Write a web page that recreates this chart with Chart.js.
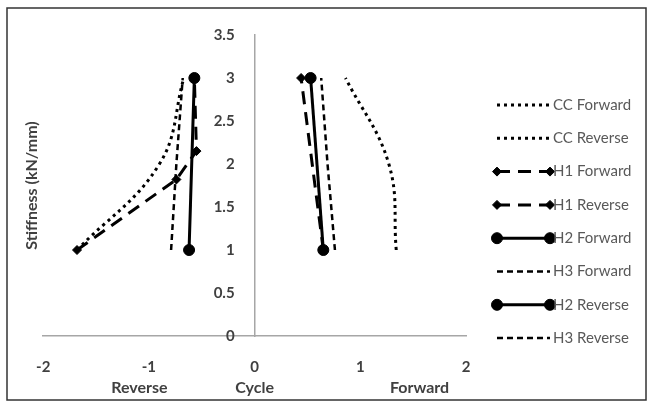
<!DOCTYPE html>
<html><head><meta charset="utf-8">
<script src="https://cdn.jsdelivr.net/npm/chart.js@4/dist/chart.umd.min.js"></script>
<style>html,body{margin:0;padding:0;background:#fff}</style>
</head><body>
<canvas id="c" width="654" height="409"></canvas>
<script>
// ---- data ----
const seriesNames = ['CC Forward','CC Reverse','H1 Forward','H1 Reverse','H2 Forward','H3 Forward','H2 Reverse','H3 Reverse'];
const ccForwardX = [1.34, 1.27, 0.86];
const ccForwardY = [1, 2, 3];
const ccReverseX = [-1.68, -0.90, -0.67];
const ccReverseY = [1, 2, 3];
const h1ForwardX = [0.65, 0.44];
const h1ForwardY = [1, 3];
const h1ReverseX = [-1.68, -0.74, -0.55, -0.57];
const h1ReverseY = [1, 1.82, 2.15, 3];
const h2ForwardX = [0.65, 0.53];
const h2ForwardY = [1, 3];
const h3ForwardX = [0.76, 0.69, 0.63];
const h3ForwardY = [1, 2, 3];
const h2ReverseX = [-0.62, -0.57];
const h2ReverseY = [1, 3];
const h3ReverseX = [-0.79, -0.74, -0.68];
const h3ReverseY = [1, 2, 3];
const xTickValues = [-2, -1, 0, 1, 2];
const xTickLabels = ['-2', '-1', '0', '1', '2'];
const yTickValues = [0, 0.5, 1, 1.5, 2, 2.5, 3, 3.5];
const yTickLabels = ['0', '0.5', '1', '1.5', '2', '2.5', '3', '3.5'];
const xTitleWords = ['Reverse', 'Cycle', 'Forward'];
const xTitleAt = [-1.09, 0, 1.56];
const yTitle = 'Stiffness (kN/mm)';

const pts = (xs, ys) => xs.map((x, i) => ({x: x, y: ys[i]}));
const dotted = {borderDash: [3, 4], borderWidth: 3, pointRadius: 0, tension: 0.4};
const longDash = {borderDash: [13, 8], borderWidth: 3, pointStyle: 'rectRot', pointRadius: 4.5, tension: 0};
const solid = {borderDash: [], borderWidth: 3, pointStyle: 'circle', pointRadius: 5.5, tension: 0};
const shortDash = {borderDash: [6, 4], borderWidth: 2.5, pointRadius: 0, tension: 0};
const seriesData = [
  pts(ccForwardX, ccForwardY), pts(ccReverseX, ccReverseY),
  pts(h1ForwardX, h1ForwardY), pts(h1ReverseX, h1ReverseY),
  pts(h2ForwardX, h2ForwardY), pts(h3ForwardX, h3ForwardY),
  pts(h2ReverseX, h2ReverseY), pts(h3ReverseX, h3ReverseY)
];
const seriesStyle = [dotted, dotted, longDash, longDash, solid, shortDash, solid, shortDash];

const datasets = seriesNames.map((n, i) => Object.assign({
  label: n, data: seriesData[i], showLine: true,
  borderColor: '#000', backgroundColor: '#000',
  pointBackgroundColor: '#000', pointBorderColor: '#000', pointBorderWidth: 1,
  borderCapStyle: 'butt', borderJoinStyle: 'round'
}, seriesStyle[i]));

const TXT = '#404040';
const extras = {
  id: 'extras',
  beforeDraw(chart) {
    const ctx = chart.ctx;
    ctx.save();
    ctx.fillStyle = '#fff';
    ctx.fillRect(0, 0, chart.width, chart.height);
    ctx.strokeStyle = '#333';
    ctx.lineWidth = 1.5;
    ctx.strokeRect(7, 8, 639, 392);
    ctx.restore();
  },
  afterDraw(chart) {
    const ctx = chart.ctx;
    const xs = chart.scales.x;
    ctx.save();
    // x axis title words
    ctx.font = 'bold 16px Lato';
    ctx.fillStyle = TXT;
    ctx.textAlign = 'center';
    ctx.textBaseline = 'middle';
    xTitleWords.forEach((w, i) => ctx.fillText(w, xs.getPixelForValue(xTitleAt[i]), 388));
    // legend
    const x0 = 497, x1 = 550, top = 105, step = 33.3;
    chart.data.datasets.forEach((ds, i) => {
      const y = top + i * step;
      ctx.save();
      ctx.strokeStyle = '#000';
      ctx.lineWidth = ds.borderWidth;
      ctx.setLineDash(ds.borderDash || []);
      ctx.lineCap = 'butt';
      ctx.beginPath();
      ctx.moveTo(x0, y); ctx.lineTo(x1, y); ctx.stroke();
      ctx.setLineDash([]);
      if (ds.pointRadius > 0) {
        ctx.fillStyle = '#000';
        ctx.lineWidth = 1;
        [x0, x1].forEach(px => Chart.helpers.drawPoint(ctx, {pointStyle: ds.pointStyle, radius: ds.pointRadius, rotation: 0, borderWidth: 1}, px, y));
      }
      ctx.restore();
      ctx.font = '15px Lato';
      ctx.fillStyle = '#595959';
      ctx.textAlign = 'left';
      ctx.textBaseline = 'middle';
      ctx.fillText(ds.label, x1 + 3, y);
    });
    ctx.restore();
  }
};

// shift the centre-positioned y labels away from the axis line
const Y_LABEL_GAP = 20;
function patchYLabels(scale) {
  if (scale._gapPatched) return;
  scale._gapPatched = true;
  const orig = scale.drawLabels.bind(scale);
  scale.drawLabels = function(area) {
    const ctx = this.ctx;
    ctx.save();
    ctx.translate(-Y_LABEL_GAP, 0);
    orig(area);
    ctx.restore();
  };
}

new Chart(document.getElementById('c'), {
  type: 'scatter',
  data: {datasets: datasets},
  plugins: [extras],
  options: {
    responsive: false, animation: false,
    layout: {padding: {left: 20, right: 188, top: 35, bottom: 11}},
    plugins: {legend: {display: false}, tooltip: {enabled: false}},
    scales: {
      x: {
        type: 'linear', position: 'bottom', min: -2, max: 2,
        afterBuildTicks: s => { s.ticks = xTickValues.map(v => ({value: v})); },
        grid: {display: false, drawTicks: false},
        border: {display: true, color: '#a6a6a6', width: 1.5},
        ticks: {padding: 22, color: TXT, font: {family: 'Lato', weight: 'bold', size: 15},
          callback: (v, i) => xTickLabels[i], maxRotation: 0, autoSkip: false}
      },
      y: {
        type: 'linear', position: {x: 0}, min: 0, max: 3.5,
        afterBuildTicks: s => { s.ticks = yTickValues.map(v => ({value: v})); },
        afterUpdate: patchYLabels,
        grid: {display: false, drawTicks: false},
        border: {display: true, color: '#a6a6a6', width: 1.5},
        ticks: {padding: 2, color: TXT, font: {family: 'Lato', weight: 'bold', size: 15},
          callback: (v, i) => yTickLabels[i], autoSkip: false}
      },
      yTitle: {
        type: 'linear', axis: 'y', position: 'left', min: 0, max: 3.5,
        grid: {display: false, drawTicks: false},
        border: {display: false},
        ticks: {display: false},
        title: {display: true, text: yTitle, color: TXT, padding: 2,
          font: {family: 'Lato', weight: 'bold', size: 16}}
      }
    }
  }
});
</script>
</body></html>
